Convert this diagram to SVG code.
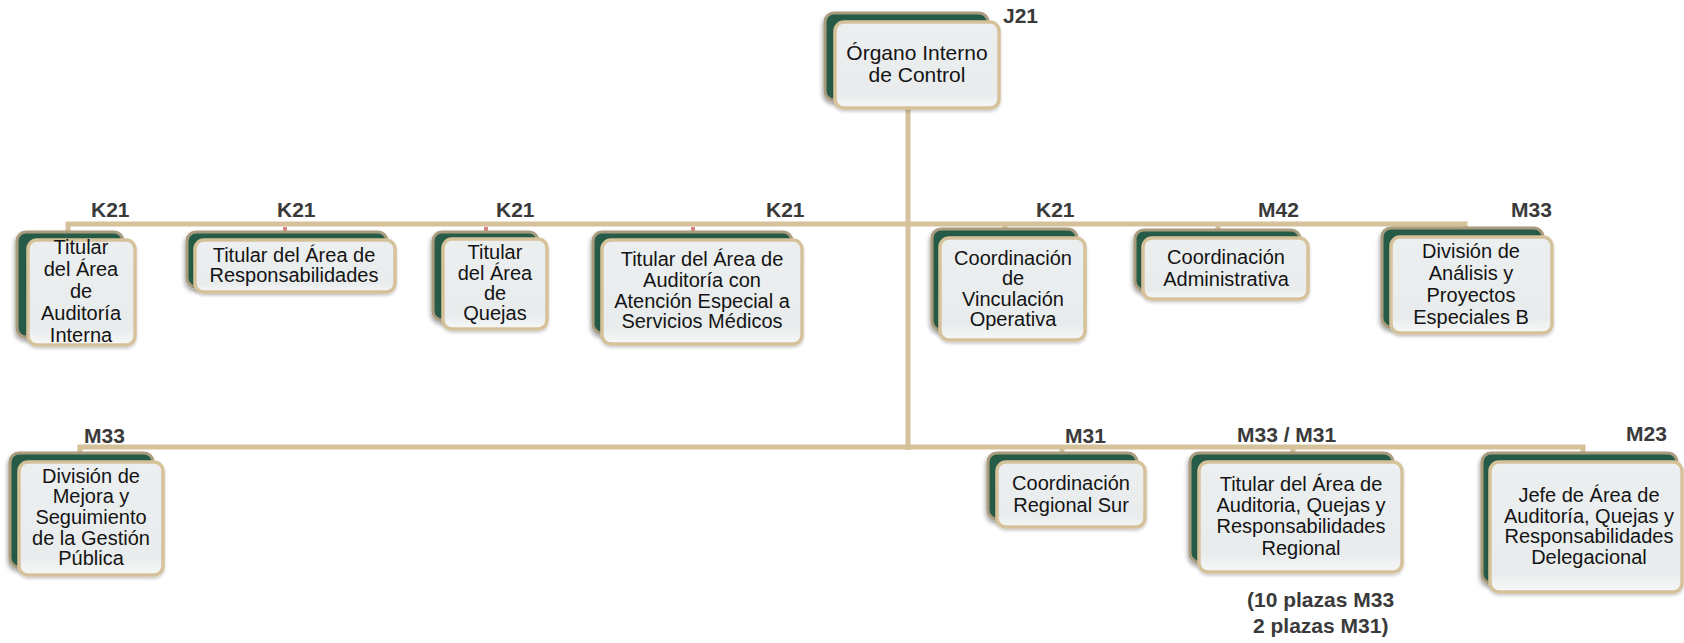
<svg xmlns="http://www.w3.org/2000/svg" width="1684" height="643" viewBox="0 0 1684 643">
<style>
.back{fill:#275c47;stroke:#a99b7e;stroke-width:3;filter:url(#sh)}
.front{fill:url(#fg);stroke:#d5c29b;stroke-width:3.5;filter:url(#sh2)}
.t{font-family:"Liberation Sans",Arial,sans-serif;font-size:20px;fill:#141414;text-anchor:middle}
.t21{font-size:21px}
.lbl{font-family:"Liberation Sans",Arial,sans-serif;font-size:21px;font-weight:bold;fill:#3a3a3a}
.ln{stroke:#d5c29b;stroke-width:5;fill:none}
.pk{stroke:#d8837f;stroke-width:4;fill:none}
</style>
<defs>
<linearGradient id="fg" x1="0" y1="0" x2="0" y2="1">
<stop offset="0" stop-color="#eceff0"/>
<stop offset="0.85" stop-color="#e9eced"/>
<stop offset="1" stop-color="#f7f8f8"/>
</linearGradient>
<filter id="sh" x="-10%" y="-10%" width="125%" height="130%">
<feDropShadow dx="-1" dy="3" stdDeviation="2" flood-color="#000" flood-opacity="0.35"/>
</filter>
<filter id="sh2" x="-10%" y="-10%" width="125%" height="130%">
<feDropShadow dx="0" dy="2" stdDeviation="1.5" flood-color="#000" flood-opacity="0.2"/>
</filter>
</defs>
<rect width="1684" height="643" fill="#ffffff"/>

<g id="connectors">
<path class="ln" d="M908 108 V450"/>
<path class="ln" d="M68 232 V224 H1465 V229"/>
<path class="ln" d="M1005 224 V230"/>
<path class="ln" d="M1218 224 V231"/>
<path class="pk" d="M285 227 V232"/>
<path class="pk" d="M486 227 V232"/>
<path class="pk" d="M693 227 V232"/>
<path class="ln" d="M80 454 V447 H1583 V453"/>
<path class="ln" d="M1062 447 V454"/>
<path class="ln" d="M1293 447 V454"/>
</g>

<g id="n0">
<rect class="back" x="825" y="13" width="163" height="87" rx="9"/>
<rect class="front" x="835" y="22" width="164" height="86" rx="9"/>
<text class="t t21" x="917"><tspan x="917" y="60">Órgano Interno</tspan><tspan x="917" y="82">de Control</tspan></text>
<text class="lbl" x="1003" y="23">J21</text>
</g>

<g id="n1">
<rect class="back" x="17" y="232" width="106" height="105" rx="9"/>
<rect class="front" x="28" y="240" width="107" height="105" rx="9"/>
<text class="t"><tspan x="81" y="254">Titular</tspan><tspan x="81" y="276">del Área</tspan><tspan x="81" y="298">de</tspan><tspan x="81" y="320">Auditoría</tspan><tspan x="81" y="342">Interna</tspan></text>
<text class="lbl" x="91" y="217">K21</text>
</g>

<g id="n2">
<rect class="back" x="187" y="232" width="200" height="55" rx="9"/>
<rect class="front" x="195" y="240" width="200" height="52" rx="9"/>
<text class="t"><tspan x="294" y="262">Titular del Área de</tspan><tspan x="294" y="282">Responsabilidades</tspan></text>
<text class="lbl" x="277" y="217">K21</text>
</g>

<g id="n3">
<rect class="back" x="433" y="232" width="105" height="88" rx="9"/>
<rect class="front" x="443" y="239" width="104" height="90" rx="9"/>
<text class="t"><tspan x="495" y="259">Titular</tspan><tspan x="495" y="280">del Área</tspan><tspan x="495" y="300">de</tspan><tspan x="495" y="320">Quejas</tspan></text>
<text class="lbl" x="496" y="217">K21</text>
</g>

<g id="n4">
<rect class="back" x="593" y="232" width="199" height="101" rx="9"/>
<rect class="front" x="602" y="240" width="200" height="104" rx="9"/>
<text class="t"><tspan x="702" y="266">Titular del Área de</tspan><tspan x="702" y="287">Auditoría con</tspan><tspan x="702" y="308">Atención Especial a</tspan><tspan x="702" y="328">Servicios Médicos</tspan></text>
<text class="lbl" x="766" y="217">K21</text>
</g>

<g id="n5">
<rect class="back" x="932" y="229" width="145" height="101" rx="9"/>
<rect class="front" x="940" y="238" width="145" height="102" rx="9"/>
<text class="t"><tspan x="1013" y="265">Coordinación</tspan><tspan x="1013" y="285">de</tspan><tspan x="1013" y="306">Vinculación</tspan><tspan x="1013" y="326">Operativa</tspan></text>
<text class="lbl" x="1036" y="217">K21</text>
</g>

<g id="n6">
<rect class="back" x="1135" y="230" width="165" height="60" rx="9"/>
<rect class="front" x="1143" y="238" width="165" height="61" rx="9"/>
<text class="t"><tspan x="1226" y="264">Coordinación</tspan><tspan x="1226" y="286">Administrativa</tspan></text>
<text class="lbl" x="1258" y="217">M42</text>
</g>

<g id="n7">
<rect class="back" x="1382" y="228" width="161" height="99" rx="9"/>
<rect class="front" x="1391" y="237" width="161" height="96" rx="9"/>
<text class="t"><tspan x="1471" y="258">División de</tspan><tspan x="1471" y="280">Análisis y</tspan><tspan x="1471" y="302">Proyectos</tspan><tspan x="1471" y="324">Especiales B</tspan></text>
<text class="lbl" x="1511" y="217">M33</text>
</g>

<g id="n8">
<rect class="back" x="10" y="453" width="143" height="114" rx="9"/>
<rect class="front" x="19" y="462" width="144" height="113" rx="9"/>
<text class="t"><tspan x="91" y="483">División de</tspan><tspan x="91" y="503">Mejora y</tspan><tspan x="91" y="524">Seguimiento</tspan><tspan x="91" y="545">de la Gestión</tspan><tspan x="91" y="565">Pública</tspan></text>
<text class="lbl" x="84" y="443">M33</text>
</g>

<g id="n9">
<rect class="back" x="988" y="453" width="149" height="66" rx="9"/>
<rect class="front" x="997" y="462" width="148" height="65" rx="9"/>
<text class="t"><tspan x="1071" y="490">Coordinación</tspan><tspan x="1071" y="512">Regional Sur</tspan></text>
<text class="lbl" x="1065" y="443">M31</text>
</g>

<g id="n10">
<rect class="back" x="1190" y="453" width="203" height="109" rx="9"/>
<rect class="front" x="1199" y="462" width="203" height="110" rx="9"/>
<text class="t"><tspan x="1301" y="491">Titular del Área de</tspan><tspan x="1301" y="512">Auditoria, Quejas y</tspan><tspan x="1301" y="533">Responsabilidades</tspan><tspan x="1301" y="555">Regional</tspan></text>
<text class="lbl" x="1237" y="442">M33 / M31</text>
<text class="lbl"><tspan x="1247" y="607">(10 plazas M33</tspan><tspan x="1253" y="633">2 plazas M31)</tspan></text>
</g>

<g id="n11">
<rect class="back" x="1482" y="453" width="195" height="130" rx="9"/>
<rect class="front" x="1490" y="462" width="192" height="130" rx="9"/>
<text class="t"><tspan x="1589" y="502">Jefe de Área de</tspan><tspan x="1589" y="523">Auditoría, Quejas y</tspan><tspan x="1589" y="543">Responsabilidades</tspan><tspan x="1589" y="564">Delegacional</tspan></text>
<text class="lbl" x="1626" y="441">M23</text>
</g>
</svg>
